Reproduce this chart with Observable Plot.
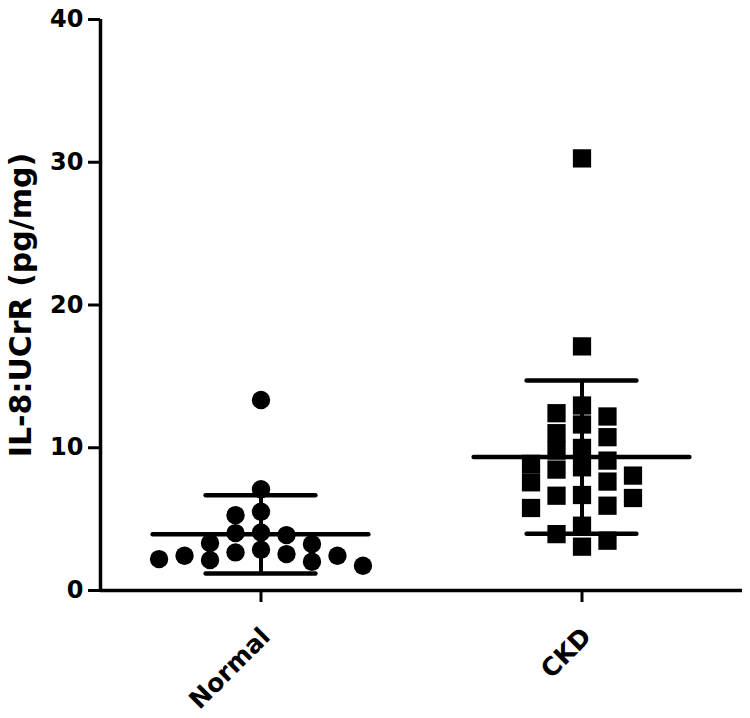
<!DOCTYPE html>
<html>
<head>
<meta charset="utf-8">
<script src="https://cdn.jsdelivr.net/npm/d3@7"></script>
<script src="https://cdn.jsdelivr.net/npm/@observablehq/plot@0.6"></script>
<style>
  html, body { margin: 0; padding: 0; background: #fff; }
  svg text { font-weight: bold; }
</style>
</head>
<body>
<div id="chart"></div>
<script>
// ---- data ----
const groups = ["Normal", "CKD"];
const normalValues = [13.35, 7.1, 5.28, 5.52, 4.02, 3.88, 4.07, 3.32, 3.25, 2.86, 2.67, 2.55, 2.43, 2.13, 2.01, 2.2, 2.43, 1.73];
const ckdValues = [30.27, 17.1, 12.96, 12.42, 12.19, 11.63, 11.02, 10.74, 9.99, 9.8, 9.1, 8.63, 8.47, 8.87, 8.05, 7.58, 7.63, 6.48, 6.69, 6.64, 5.94, 5.78, 4.54, 3.95, 3.49, 3.07];
const yTicks = [0, 10, 20, 30, 40];
const yTitle = "IL-8:UCrR (pg/mg)";

// ---- layout helpers ----
const xDomain = [0.5, 2.5];
const yDomain = [0, 40];
const xTicks = groups.map((g, i) => i + 1);
const slotWidth = 0.0794;   // horizontal spacing of scatter columns (x units)
const minGap = 1.15;        // min vertical distance within a column (y units)

function scatterLayout(values, center) {
  const order = d3.range(values.length).sort((a, b) => values[b] - values[a]);
  const columns = new Map();
  const out = [];
  for (const i of order) {
    const v = values[i];
    for (let k = 0; ; k++) {
      const s = k === 0 ? 0 : (k % 2 ? -Math.ceil(k / 2) : k / 2);
      const col = columns.get(s) || [];
      if (col.every(u => Math.abs(u - v) >= minGap)) {
        col.push(v); columns.set(s, col);
        out.push({x: center + s * slotWidth, y: v});
        break;
      }
    }
  }
  return out;
}

const normalPts = scatterLayout(normalValues, 1);
const ckdPts = scatterLayout(ckdValues, 2);

const stats = [normalValues, ckdValues].map((vals, i) => {
  const m = d3.mean(vals), sd = d3.deviation(vals);
  return {x: i + 1, mean: m, lo: m - sd, hi: m + sd};
});

const meanHalf = 0.336, capHalf = 0.171;
const FONT = "'DejaVu Sans', Verdana, sans-serif";

const chart = Plot.plot({
  width: 750,
  height: 718,
  marginLeft: 100,
  marginRight: 8,
  marginTop: 19,
  marginBottom: 128,
  style: {fontFamily: FONT, fontWeight: "bold", color: "#000", background: "#fff"},
  x: {domain: xDomain},
  y: {domain: yDomain},
  marks: [
    Plot.axisY({ticks: yTicks, tickSize: 12, tickPadding: 5, strokeWidth: 3, label: null, fontSize: 24}),
    // x tick marks
    Plot.axisX({ticks: xTicks, tickFormat: () => "", tickSize: 12, strokeWidth: 3, label: null}),
    // x tick labels, rotated
    Plot.axisX({ticks: xTicks, tickFormat: d => groups[d - 1], tickRotate: -45, tickSize: 0, tickPadding: 42, dx: 5, label: null, fontSize: 25}),
    Plot.ruleX([xDomain[0]], {y1: yDomain[0], y2: yDomain[1], strokeWidth: 3.5, stroke: "black"}),
    Plot.ruleY([yDomain[0]], {x1: xDomain[0], x2: xDomain[1], strokeWidth: 3.5, stroke: "black"}),
    Plot.text([yTitle], {frameAnchor: "left", rotate: -90, dx: -79, fontSize: 30, fontWeight: "bold", textAnchor: "middle", fill: "black"}),
    Plot.dot(normalPts, {x: "x", y: "y", r: 9.2, symbol: "circle", fill: "black", stroke: null}),
    Plot.dot(ckdPts, {x: "x", y: "y", r: 10.3, symbol: "square", fill: "black", stroke: null}),
    Plot.ruleY(stats, {y: "mean", x1: d => d.x - meanHalf, x2: d => d.x + meanHalf, strokeWidth: 4.5, stroke: "black", strokeLinecap: "round"}),
    Plot.ruleY(stats, {y: "hi", x1: d => d.x - capHalf, x2: d => d.x + capHalf, strokeWidth: 4.5, stroke: "black", strokeLinecap: "round"}),
    Plot.ruleY(stats, {y: "lo", x1: d => d.x - capHalf, x2: d => d.x + capHalf, strokeWidth: 4.5, stroke: "black", strokeLinecap: "round"}),
    Plot.ruleX(stats, {x: "x", y1: "lo", y2: "hi", strokeWidth: 4, stroke: "black"})
  ]
});
d3.select(chart).selectAll("text").each(function () {
  this.style.fontFamily = FONT;
  this.style.fontWeight = "bold";
  if (groups.includes(this.textContent)) this.style.fontSize = "25px";
  else if (this.textContent !== yTitle) this.style.fontSize = "24px";
});
document.getElementById("chart").appendChild(chart);
</script>
</body>
</html>
